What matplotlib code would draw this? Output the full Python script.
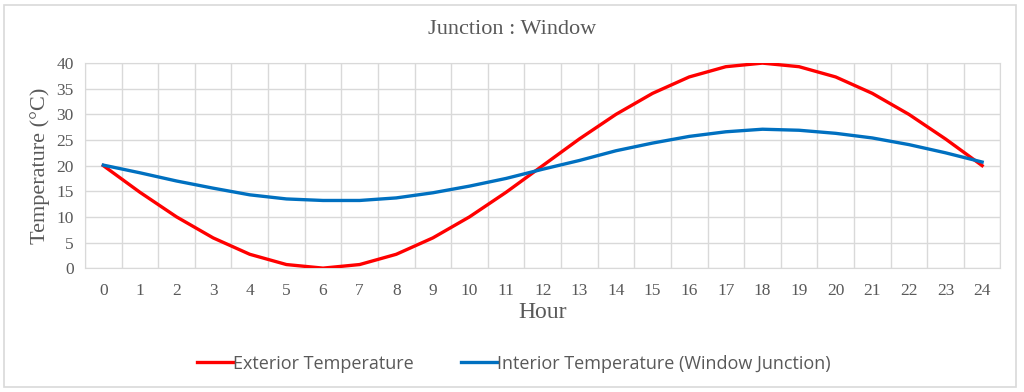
import matplotlib.pyplot as plt
from matplotlib.patches import Rectangle

hours = list(range(25))
exterior = [20, 14.8, 10, 5.9, 2.7, 0.7, 0, 0.7, 2.7, 5.9, 10, 14.8, 20,
            25.2, 30, 34.1, 37.3, 39.3, 40, 39.3, 37.3, 34.1, 30, 25.2, 20]
interior = [20.1, 18.6, 17, 15.6, 14.3, 13.5, 13.2, 13.2, 13.7, 14.7, 16, 17.5, 19.3,
            21, 22.9, 24.4, 25.7, 26.6, 27.1, 26.9, 26.3, 25.4, 24.1, 22.5, 20.7]
yticks = [0, 5, 10, 15, 20, 25, 30, 35, 40]

serif = 'Liberation Serif'
gray = '#595959'

fig = plt.figure(figsize=(10.24, 3.92), dpi=100)
fig.patches.append(Rectangle((0.004, 0.012), 0.988, 0.975, transform=fig.transFigure,
                             fill=False, edgecolor='#d9d9d9', linewidth=1.2))
ax = fig.add_axes([0.083, 0.316, 0.894, 0.523])

ax.plot(hours, exterior, color='#ff0000', linewidth=2.4, label='Exterior Temperature', zorder=3)
ax.plot(hours, interior, color='#0070c0', linewidth=2.4,
        label='Interior Temperature (Window Junction)', zorder=3)

ax.set_xlim(-0.5, 24.5)
ax.set_ylim(0, 40)
ax.set_xticks(hours)
ax.set_xticklabels([str(h) for h in hours], fontfamily=serif, fontsize=12.5, color=gray)
ax.set_yticks(yticks)
ax.set_yticklabels([str(v) for v in yticks], fontfamily=serif, fontsize=12.5, color=gray)
ax.set_xticks([h - 0.5 for h in hours] + [24.5], minor=True)
ax.grid(True, which='minor', axis='x', color='#d9d9d9', linewidth=1)
ax.grid(True, which='major', axis='y', color='#d9d9d9', linewidth=1)
ax.set_axisbelow(True)
ax.tick_params(which='both', length=0)
ax.tick_params(axis='x', pad=11)
ax.tick_params(axis='y', pad=8)
for s in ax.spines.values():
    s.set_color('#d9d9d9')

ax.set_xlabel('Hour', fontfamily=serif, fontsize=17, color=gray, labelpad=2)
ax.set_ylabel('Temperature (°C)', fontfamily=serif, fontsize=16, color=gray, labelpad=5)
fig.text(0.5, 0.925, 'Junction : Window', ha='center', va='center',
         fontfamily=serif, fontsize=16, color=gray)

leg = fig.legend(loc='center', bbox_to_anchor=(0.502, 0.072), ncol=2, frameon=False,
                 prop={'family': 'Open Sans', 'size': 13}, handlelength=2.0,
                 handletextpad=0.0, columnspacing=2.6)
for t in leg.get_texts():
    t.set_color(gray)

fig.savefig('out.png', dpi=100)
